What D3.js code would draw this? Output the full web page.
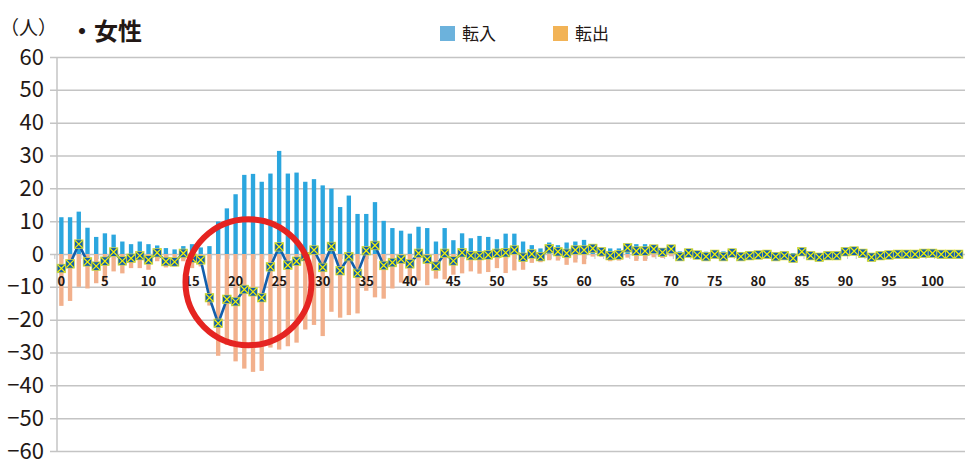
<!DOCTYPE html>
<html>
  <head>
    <meta charset="utf-8">
    <title>女性 転入・転出</title>
    <script src="https://d3js.org/d3.v7.min.js"></script>
    <style>
      body {
        margin: 0;
        background: #ffffff;
      }
      svg, svg text {
        font-family: "Noto Sans CJK JP", "Noto Sans", sans-serif;
      }
      .axis--y .tick line {
        stroke: #c4c4c4;
        stroke-width: 1.5px;
      }
      .axis--y .tick text {
        font-size: 22px;
        fill: #231815;
        font-family: "Noto Sans CJK JP", "Noto Sans", sans-serif;
      }
      .axis .domain {
        display: none;
      }
      .age-label {
        font-size: 13px;
        font-weight: bold;
        fill: #231815;
        text-anchor: middle;
      }
      .legend text {
        font-size: 17px;
        fill: #231815;
      }
    </style>
  </head>
  <body>
    <svg width="965" height="460"></svg>
    <script>
      // 年齢 0〜103歳
      const ages = d3.range(0, 104);

      // 転入（人）
      const inflow = [
        11.2, 11.2, 12.9, 8.0, 5.2, 6.3, 5.9, 3.8, 3.0, 3.8,
        3.0, 2.6, 1.8, 1.4, 2.4, 3.0, 2.0, 2.4, 9.9, 13.9,
        18.2, 24.1, 24.4, 22.0, 24.5, 31.4, 24.5, 24.8, 22.0, 22.8,
        20.9, 19.9, 14.3, 17.8, 12.2, 12.2, 15.8, 10.1, 7.9, 7.1,
        6.2, 8.3, 7.9, 3.8, 7.9, 4.2, 6.3, 4.8, 5.5, 5.2,
        4.5, 6.2, 6.2, 3.8, 2.7, 1.7, 3.5, 2.7, 3.5, 3.8,
        4.3, 2.5, 1.6, 1.7, 1.7, 3.0, 3.0, 3.0, 2.5, 1.7,
        2.2, 0.8, 0.9, 0.8, 0.7, 0.8, 0.8, 0.9, 0.6, 0.8,
        0.6, 0.5, 0.4, 0.6, 0.3, 1.0, 0.5, 0.3, 0.6, 0.5,
        0.9, 1.0, 0.8, 0.3, 0.4, 0.5, 0.6, 0.5, 0.6, 0.7,
        0.6, 0.5, 0.4, 0.4
      ];

      // 転出（人）
      const outflow = [
        15.8, 14.3, 10.0, 10.5, 8.9, 8.5, 5.3, 5.9, 4.3, 4.3,
        4.8, 2.2, 4.1, 3.8, 2.2, 4.3, 3.8, 15.7, 31.0, 27.7,
        32.7, 34.9, 35.9, 35.6, 28.5, 29.1, 28.1, 27.0, 23.0, 21.6,
        25.0, 17.6, 19.4, 18.6, 18.1, 11.2, 13.2, 13.6, 10.5, 8.7,
        9.2, 8.1, 9.5, 7.5, 7.7, 6.3, 5.9, 5.3, 6.0, 5.5,
        4.3, 5.8, 5.0, 4.8, 2.7, 2.5, 1.9, 2.0, 3.3, 2.6,
        3.1, 0.8, 0.9, 2.2, 2.0, 1.1, 2.1, 2.1, 1.0, 1.2,
        0.7, 1.6, 0.6, 1.1, 1.5, 0.9, 1.6, 0.6, 1.4, 1.3,
        1.4, 0.6, 1.2, 1.1, 1.6, 0.3, 1.0, 1.3, 1.1, 1.0,
        0.2, 0.1, 0.6, 1.3, 0.9, 0.8, 0.7, 0.6, 0.7, 0.5,
        0.4, 0.6, 0.5, 0.5
      ];

      // 転入超過（人）
      const net = [
        -4.4, -3.0, 3.0, -2.4, -3.7, -2.2, 0.6, -2.1, -1.3, -0.5,
        -1.8, 0.4, -2.3, -2.4, 0.2, -1.3, -1.8, -13.3, -21.1, -13.8,
        -14.5, -10.8, -11.5, -13.3, -3.9, 2.2, -3.4, -2.2, -0.8, 1.2,
        -4.1, 2.3, -5.1, -0.8, -5.9, 1.0, 2.6, -3.5, -2.6, -1.6,
        -3.0, 0.2, -1.6, -3.7, 0.2, -2.1, 0.4, -0.5, -0.5, -0.3,
        0.2, 0.4, 1.2, -1.0, 0.0, -0.8, 1.6, 0.7, 0.2, 1.2,
        1.2, 1.7, 0.7, -0.5, -0.3, 1.9, 0.9, 0.9, 1.5, 0.5,
        1.5, -0.8, 0.3, -0.3, -0.8, -0.1, -0.8, 0.3, -0.8, -0.5,
        -0.3, -0.1, -0.8, -0.5, -1.3, 0.7, -0.5, -1.0, -0.5, -0.5,
        0.7, 0.9, 0.2, -1.0, -0.5, -0.3, -0.1, -0.1, -0.1, 0.2,
        0.2, -0.1, -0.1, -0.1
      ];

      const yTicks = [60, 50, 40, 30, 20, 10, 0, -10, -20, -30, -40, -50, -60];
      const ageLabels = d3.range(0, 104, 5);
      const legendItems = ["転入", "転出"];

      function yAxis(selection, props){
        const axis = d3.axisLeft()
          .scale(props.scale)
          .tickValues(props.ticks)
          .tickSizeInner(-props.gridWidth)
          .tickSizeOuter(0)
          .tickPadding(6);

        selection.append("g")
            .attr("class", "axis axis--y")
            .attr("transform", `translate(${props.x}, 0)`)
            .call(axis);

        selection.append("line")
            .attr("x1", props.axisX)
            .attr("x2", props.axisX)
            .attr("y1", props.scale(60))
            .attr("y2", props.scale(-60))
            .attr("stroke", "#c4c4c4")
            .attr("stroke-width", 1.5);
      }

      function bars(selection, props){
        const xScale = props.xScale;
        const yScale = props.yScale;

        selection.append("g")
          .selectAll("rect")
          .data(ages)
          .join("rect")
            .attr("x", d => xScale(d))
            .attr("width", xScale.bandwidth())
            .attr("y", d => yScale(inflow[d]))
            .attr("height", d => yScale(0) - yScale(inflow[d]))
            .attr("fill", "#2ba6de");

        selection.append("g")
          .selectAll("rect")
          .data(ages)
          .join("rect")
            .attr("x", d => xScale(d))
            .attr("width", xScale.bandwidth())
            .attr("y", yScale(0))
            .attr("height", d => yScale(-outflow[d]) - yScale(0))
            .attr("fill", "#f2b08c");
      }

      function zeroAxis(selection, props){
        const xScale = props.xScale;
        const y0 = props.yScale(0);
        const step = xScale.step();
        const left = xScale(0) - xScale.paddingOuter() * step;

        selection.append("g")
          .selectAll("line")
          .data(d3.range(0, ages.length + 1))
          .join("line")
            .attr("x1", i => left + i * step - step * 0.25)
            .attr("x2", i => left + i * step - step * 0.25)
            .attr("y1", y0)
            .attr("y2", y0 + 5)
            .attr("stroke", "#c4c4c4")
            .attr("stroke-width", 1);

        selection.append("g")
          .selectAll("text")
          .data(ageLabels)
          .join("text")
            .attr("class", "age-label")
            .attr("x", d => xScale(d) + xScale.bandwidth() / 2)
            .attr("y", y0 + 32)
            .text(d => d);
      }

      function netLine(selection, props){
        const xScale = props.xScale;
        const yScale = props.yScale;
        const cx = d => xScale(d) + xScale.bandwidth() / 2;
        const s = 4.3;

        const line = d3.line()
          .x(d => cx(d))
          .y(d => yScale(net[d]));

        selection.append("path")
            .datum(ages)
            .attr("d", line)
            .attr("fill", "none")
            .attr("stroke", "#135fac")
            .attr("stroke-width", 2.6)
            .attr("stroke-linejoin", "round");

        const marker = selection.append("g")
          .selectAll("g")
          .data(ages)
          .join("g")
            .attr("transform", d => `translate(${cx(d)}, ${yScale(net[d])})`);

        marker.append("rect")
            .attr("x", -s)
            .attr("y", -s)
            .attr("width", s * 2)
            .attr("height", s * 2)
            .attr("fill", "#135fac")
            .attr("stroke", "#e0e040")
            .attr("stroke-width", 0.7);

        marker.append("path")
            .attr("d", `M${-s + 0.5},${-s + 0.5}L${s - 0.5},${s - 0.5}M${-s + 0.5},${s - 0.5}L${s - 0.5},${-s + 0.5}`)
            .attr("stroke", "#f4f400")
            .attr("stroke-width", 1.2);
      }

      function legend(selection, props){
        const colors = ["#6cb2dc", "#f2b356"];
        const item = selection.append("g")
            .attr("class", "legend")
          .selectAll("g")
          .data(legendItems)
          .join("g")
            .attr("transform", (d, i) => `translate(${props.x + i * props.spacing}, ${props.y})`);

        item.append("rect")
            .attr("width", 15)
            .attr("height", 15)
            .attr("fill", (d, i) => colors[i]);

        item.append("text")
            .attr("x", 22)
            .attr("y", 13.5)
            .text(d => d);
      }

      function main(){
        const svg = d3.select("svg");

        const yScale = d3.scaleLinear()
          .domain([-60, 60])
          .range([451, 57]);

        const xScale = d3.scaleBand()
          .domain(ages)
          .range([57, 963])
          .paddingInner(0.5)
          .paddingOuter(0.25);

        svg.call(yAxis, {
          scale: yScale,
          ticks: yTicks,
          x: 50,
          axisX: 57,
          gridWidth: 915
        });

        svg.call(bars, { xScale, yScale });
        svg.call(zeroAxis, { xScale, yScale });
        svg.call(netLine, { xScale, yScale });

        // 注目範囲の赤丸
        svg.append("circle")
            .attr("cx", xScale(21) + xScale.bandwidth() + 2)
            .attr("cy", yScale(-8.6))
            .attr("r", 63)
            .attr("fill", "none")
            .attr("stroke", "#e52421")
            .attr("stroke-width", 6);

        svg.append("text")
            .attr("x", 0)
            .attr("y", 35)
            .attr("font-size", 19)
            .attr("fill", "#231815")
            .text("（人）");

        svg.append("text")
            .attr("x", 70)
            .attr("y", 40)
            .attr("font-size", 24)
            .attr("font-weight", "bold")
            .attr("fill", "#231815")
            .text("・女性");

        svg.call(legend, { x: 440, y: 26, spacing: 113 });
      }
      main();
    </script>
  </body>
</html>
